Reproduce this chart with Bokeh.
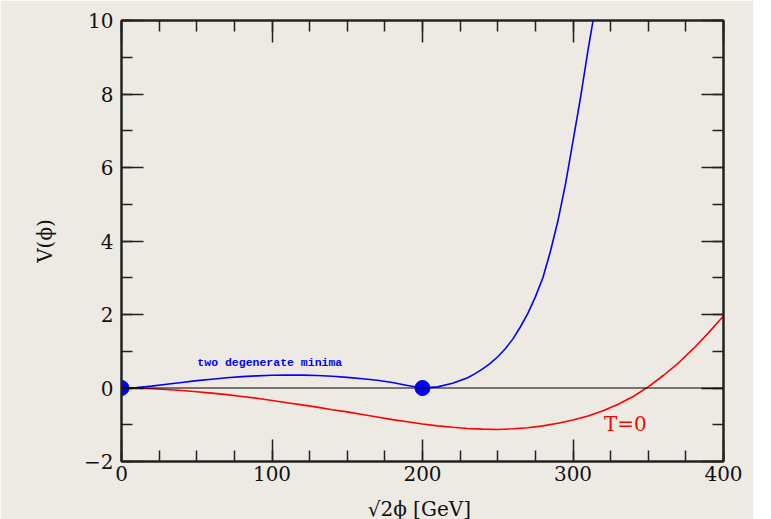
from bokeh.plotting import figure
from bokeh.models import LinearAxis, SingleIntervalTicker, Span, Range1d, CustomJSTickFormatter
from bokeh.core.properties import value
from bokeh.embed import file_html
from bokeh.resources import INLINE

# ---- data ----
phi_blue = [0, 10, 20, 30, 40, 50, 60, 70, 80, 90, 100, 110, 120, 130, 140, 150,
            160, 170, 180, 190, 200, 210, 220, 230, 235, 240, 245, 250, 255, 260,
            265, 270, 275, 280, 285, 290, 295, 300, 305, 310, 315]
v_blue = [0.0, 0.015, 0.05, 0.10, 0.15, 0.20, 0.24, 0.28, 0.31, 0.33, 0.345, 0.35,
          0.35, 0.34, 0.32, 0.29, 0.25, 0.21, 0.15, 0.07, 0.0, 0.03, 0.13, 0.28,
          0.39, 0.52, 0.67, 0.85, 1.07, 1.33, 1.66, 2.03, 2.48, 3.0, 3.72, 4.55,
          5.55, 6.72, 7.9, 9.2, 10.4]

phi_red = [0, 10, 20, 30, 40, 50, 60, 70, 80, 90, 100, 110, 120, 130, 140, 150,
           160, 170, 180, 190, 200, 210, 220, 230, 240, 250, 260, 270, 280, 290,
           300, 310, 320, 330, 340, 350, 360, 370, 380, 390, 400]
v_red = [0.0, -0.005, -0.02, -0.04, -0.07, -0.10, -0.14, -0.18, -0.23, -0.28, -0.34,
         -0.40, -0.46, -0.52, -0.59, -0.65, -0.72, -0.79, -0.86, -0.92, -0.98,
         -1.03, -1.07, -1.10, -1.12, -1.13, -1.11, -1.08, -1.03, -0.96, -0.87,
         -0.76, -0.62, -0.44, -0.23, 0.03, 0.34, 0.68, 1.07, 1.50, 1.96]

minima_phi = [0, 200]
minima_v = [0, 0]

x_label = "√2\u03d5  [GeV]"
y_label = "V(\u03d5)"
blue_note = "two degenerate minima"
red_note = "T=0"

BG = "#edeae4"
FRAME = "#222222"
SERIF = "DejaVu Serif"

p = figure(frame_width=602, frame_height=441,
           x_range=Range1d(0, 400), y_range=Range1d(-2, 10),
           output_backend="svg", toolbar_location=None,
           background_fill_color=BG, border_fill_color=BG,
           min_border_left=121, min_border_right=30,
           min_border_top=20, min_border_bottom=50)
p.grid.visible = False
p.outline_line_color = FRAME
p.outline_line_width = 2

bottom = p.below[0]
left = p.left[0]
bottom.ticker = SingleIntervalTicker(interval=100, num_minor_ticks=4)
left.ticker = SingleIntervalTicker(interval=2, num_minor_ticks=2)
left.major_label_overrides = {-2: "\u22122"}

top = LinearAxis(ticker=SingleIntervalTicker(interval=100, num_minor_ticks=4),
                 formatter=CustomJSTickFormatter(code="return '';"))
right = LinearAxis(ticker=SingleIntervalTicker(interval=2, num_minor_ticks=2),
                   formatter=CustomJSTickFormatter(code="return '';"))
p.add_layout(top, "above")
p.add_layout(right, "right")

for ax in [bottom, left, top, right]:
    ax.axis_line_color = FRAME
    ax.axis_line_width = 2
    ax.major_tick_line_color = FRAME
    ax.minor_tick_line_color = FRAME
    ax.major_tick_line_width = 1.5
    ax.minor_tick_line_width = 1.5
    ax.major_tick_in = 22
    ax.major_tick_out = 0
    ax.minor_tick_in = 11
    ax.minor_tick_out = 0
    ax.major_label_text_font = SERIF
    ax.major_label_text_font_size = "20px"
    ax.major_label_text_color = "#111111"

for ax in [top, right]:
    ax.major_label_standoff = 0

bottom.major_label_standoff = 4
left.major_label_standoff = 8
bottom.axis_label = x_label
left.axis_label = y_label
for ax in [bottom, left]:
    ax.axis_label_text_font = SERIF
    ax.axis_label_text_font_size = "20px"
    ax.axis_label_text_font_style = "normal"
    ax.axis_label_text_color = "#111111"
bottom.axis_label_standoff = 13
left.axis_label_standoff = 24

p.add_layout(Span(location=0, dimension="width", line_color="black", line_width=1))

p.line(phi_red, v_red, line_color="#ff0000", line_width=1.6)
p.line(phi_blue, v_blue, line_color="#0000ff", line_width=1.6)
p.scatter(minima_phi, minima_v, size=15, fill_color="#0000ff", line_color="#0000ff")

p.text(x=[50.4], y=[0.70], text=[blue_note], text_color="#0000ff",
       text_font=value("Liberation Mono"), text_font_style="bold",
       text_font_size="11.5px", text_baseline="middle", text_align="left")
p.text(x=[320.6], y=[-0.99], text=[red_note], text_color="#ff0000",
       text_font=value(SERIF), text_font_size="20px",
       text_baseline="middle", text_align="left")

html = file_html(p, INLINE)
html = html.replace("<body>", '<body style="background-color:%s;">' % BG, 1)
open("out.html", "w").write(html)
